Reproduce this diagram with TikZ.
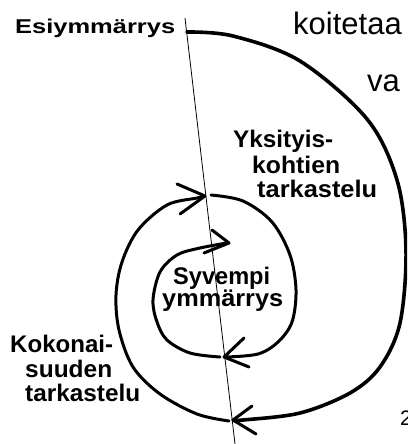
\documentclass[tikz,border=0pt]{standalone}
\usepackage{fontspec}
\usepackage{graphicx}
\setmainfont{Liberation Sans}
\newcommand\labfit[2]{\resizebox{#1pt}{\height}{#2}}
\begin{document}
\begin{tikzpicture}[x=1pt,y=-1pt,
  lab/.style={font=\bfseries\fontsize{24}{28}\selectfont, inner sep=0pt, anchor=base west},
  labsmall/.style={font=\bfseries\fontsize{20}{24}\selectfont, inner sep=0pt, anchor=base west},
  big/.style={font=\fontsize{31}{36}\selectfont, inner sep=0pt, anchor=base west},
  spiral/.style={line width=3pt, line cap=round, line join=round},
  outerline/.style={line width=3.6pt, line cap=round, line join=round},
  barb/.style={line width=3pt, line cap=round, line join=round},
  axis/.style={line width=0.8pt}]
\useasboundingbox (0,0) rectangle (407,444);
\clip (0,0) rectangle (407,444);

% thin axis line
\coordinate (axtop) at (185,18);
\coordinate (axbot) at (235,444);
\draw[axis] (axtop) -- (axbot);

% outer spiral
\draw[outerline] plot[smooth, tension=0.55] coordinates {(187,32) (233,36) (300,61) (367,119) (397,180) (406,250) (400,323) (380,367) (350,393) (300,413) (243,420) (233,420)};
% left loop
\draw[spiral] plot[smooth, tension=0.55] coordinates {(229,421) (197,414) (160,394) (133,367) (119,330) (116,295) (122,262) (138,230) (167,205) (197,198) (204,196)};
% middle right arc
\draw[spiral] plot[smooth, tension=0.55] coordinates {(211,195) (243,201) (272,222) (290,255) (296,290) (292,322) (278,342) (258,354) (226,357)};
% inner loop
\draw[spiral] plot[smooth, tension=0.55] coordinates {(220,357) (190,353) (167,340) (157,322) (153,300) (160,272) (177,255) (200,248) (227,243)};

% arrowheads
\coordinate (tipA) at (205,196);
\coordinate (tipB) at (229,243);
\coordinate (tipC) at (224,357);
\coordinate (tipD) at (233,420);
\draw[barb] (177,184) -- (tipA) -- (180,214);
\draw[barb] (212,230) -- (tipB) -- (204,253);
\draw[barb] (244,338) -- (tipC) -- (249,367);
\draw[barb] (252,406) -- (tipD) -- (256,434);

% labels
\node[labsmall] (esi) at (15,34) {\labfit{160}{Esiymmärrys}};
\node[lab] (yk1) at (233,147) {\labfit{100}{Yksityis-}};
\node[lab] (yk2) at (252,173) {\labfit{88}{kohtien}};
\node[lab] (yk3) at (257,197) {\labfit{120}{tarkastelu}};
\node[lab] (sy1) at (173,284) {\labfit{97}{Syvempi}};
\node[lab] (sy2) at (162,306) {\labfit{121}{ymmärrys}};
\node[lab] (ko1) at (10,352) {\labfit{103}{Kokonai-}};
\node[lab] (ko2) at (25,377) {\labfit{87}{suuden}};
\node[lab] (ko3) at (25,401) {\labfit{115}{tarkastelu}};

% cut-off text at right
\node[big] (koi) at (293,35) {koitetaa};
\node[big] (va) at (367,92) {va};
\node[font=\fontsize{21}{25}\selectfont, inner sep=0pt, anchor=base west] (two) at (400,425) {2};
\end{tikzpicture}
\end{document}
